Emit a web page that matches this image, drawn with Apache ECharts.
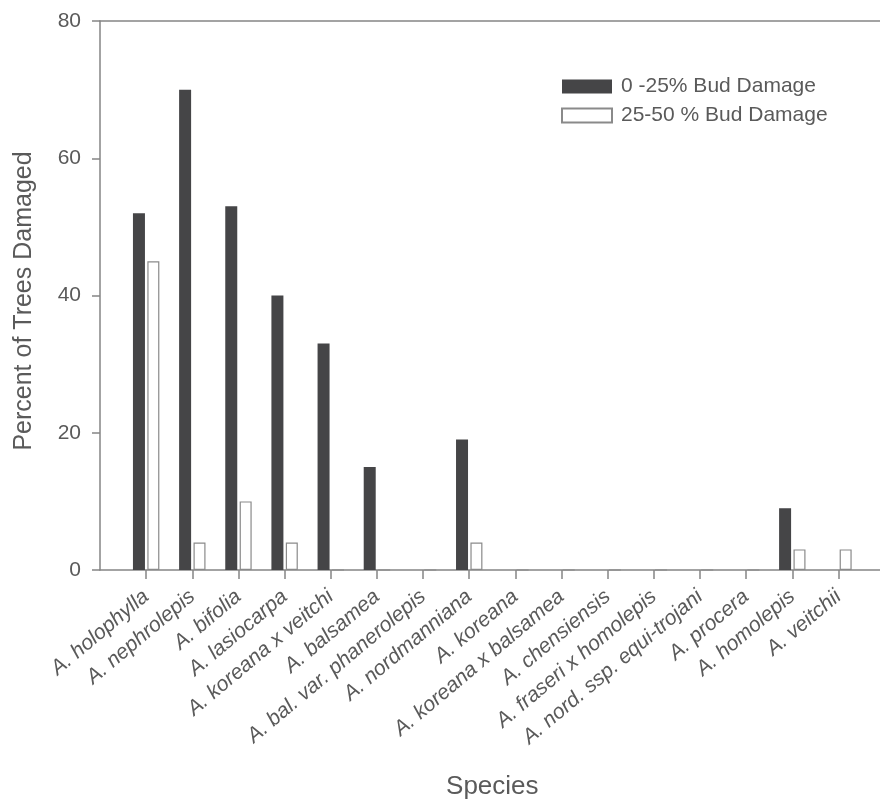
<!DOCTYPE html>
<html>
<head>
<meta charset="utf-8">
<script src="https://cdn.jsdelivr.net/npm/echarts@6/dist/echarts.min.js"></script>
<style>
html,body{margin:0;padding:0;background:#fff;}
#chart{width:880px;height:800px;}
</style>
</head>
<body>
<div id="chart"></div>
<script>
const species = [
  'A. holophylla', 'A. nephrolepis', 'A. bifolia', 'A. lasiocarpa',
  'A. koreana x veitchi', 'A. balsamea', 'A. bal. var. phanerolepis',
  'A. nordmanniana', 'A. koreana', 'A. koreana x balsamea',
  'A. chensiensis', 'A. fraseri x homolepis', 'A. nord. ssp. equi-trojani',
  'A. procera', 'A. homolepis', 'A. veitchii'
];
const damage0to25 = [52, 70, 53, 40, 33, 15, 0, 19, 0, 0, 0, 0, 0, 0, 9, 0];
const damage25to50 = [45, 4, 10, 4, 0, 0, 0, 4, 0, 0, 0, 0, 0, 0, 3, 3];
const yTicks = [0, 20, 40, 60, 80];
const seriesNames = ['0 -25% Bud Damage', '25-50 % Bud Damage'];

const FONT = '"Liberation Sans", Arial, Helvetica, sans-serif';
const TXT = '#5a5a5a';
const AX = '#858585';

// one empty slot either side so the first/last species sit one step in from the frame
const cats = [''].concat(species, ['']);
const pad = arr => [null].concat(arr, [null]);
const lastIdx = cats.length - 1;

const chart = echarts.init(document.getElementById('chart'), null, {renderer: 'canvas'});
chart.setOption({
  backgroundColor: '#ffffff',
  animation: false,
  textStyle: {fontFamily: FONT},
  legend: {
    orient: 'vertical',
    left: 556,
    top: 71,
    itemWidth: 50,
    itemHeight: 14,
    itemGap: 8,
    icon: 'rect',
    data: seriesNames,
    textStyle: {fontSize: 21, color: TXT, fontFamily: FONT, lineHeight: 20, padding: [0, 0, 0, 4]}
  },
  grid: {left: 100, top: 21, width: 784.6, height: 549, containLabel: false, outerBoundsMode: 'none'},
  xAxis: [{
    type: 'category',
    data: cats,
    boundaryGap: false,
    name: 'Species',
    nameLocation: 'middle',
    nameGap: 204,
    nameTextStyle: {fontSize: 26, color: TXT, fontFamily: FONT},
    axisLine: {show: true, lineStyle: {color: AX, width: 1.5}},
    axisTick: {show: true, length: 9, interval: (i) => i > 0 && i < lastIdx, lineStyle: {color: AX, width: 1.5}},
    axisLabel: {
      interval: (i) => i > 0 && i < lastIdx,
      rotate: 40,
      margin: 24,
      fontSize: 21,
      fontStyle: 'italic',
      color: TXT,
      fontFamily: FONT
    },
    splitLine: {show: false}
  }, {
    type: 'category',
    data: cats,
    boundaryGap: false,
    position: 'top',
    axisLine: {show: true, lineStyle: {color: AX, width: 1.5}},
    axisTick: {show: false},
    axisLabel: {show: false},
    splitLine: {show: false}
  }],
  yAxis: {
    type: 'value',
    min: yTicks[0],
    max: yTicks[yTicks.length - 1],
    interval: yTicks[1] - yTicks[0],
    name: 'Percent of Trees Damaged',
    nameLocation: 'middle',
    nameRotate: 90,
    nameGap: 63,
    nameTextStyle: {fontSize: 25, color: TXT, fontFamily: FONT, padding: [0, 11, 0, 0]},
    axisLine: {show: true, lineStyle: {color: AX, width: 1.5}},
    axisTick: {show: true, length: 8, lineStyle: {color: AX, width: 1.5}},
    axisLabel: {fontSize: 21, color: TXT, margin: 19, fontFamily: FONT},
    splitLine: {show: false}
  },
  series: [{
    name: seriesNames[0],
    type: 'bar',
    data: pad(damage0to25),
    barWidth: 12,
    barGap: '20%',
    itemStyle: {color: '#454547'}
  }, {
    name: seriesNames[1],
    type: 'bar',
    data: pad(damage25to50),
    barWidth: 12,
    barGap: '20%',
    itemStyle: {color: '#ffffff', borderColor: '#8a8a8a', borderWidth: 1.2}
  }]
});
</script>
</body>
</html>
